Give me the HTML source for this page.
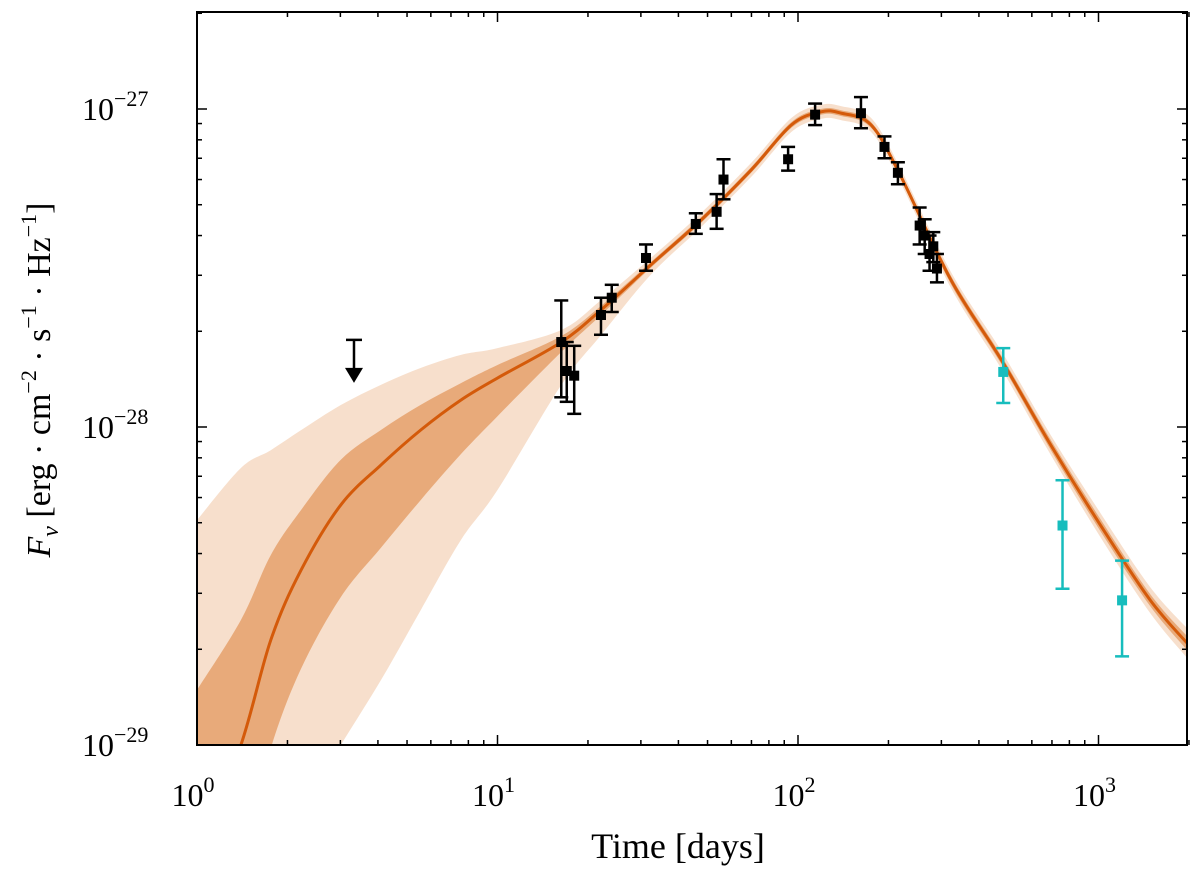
<!DOCTYPE html>
<html><head><meta charset="utf-8"><style>
body{margin:0;background:#fff;overflow:hidden;}
svg{display:block;}
svg text{font-family:"Liberation Serif",serif;fill:#000;}
</style></head><body>
<svg id="chart" width="1200" height="873" xmlns="http://www.w3.org/2000/svg">
<defs><clipPath id="clip"><rect x="197" y="12" width="990" height="733"/></clipPath></defs>
<g id="bands" clip-path="url(#clip)"></g>
<g id="marks"></g>
<g id="axes"></g>
<text x="678" y="858" font-size="36" text-anchor="middle">Time [days]</text>
<text transform="translate(50,380) rotate(-90)" font-size="34" text-anchor="middle"><tspan font-style="italic">F</tspan><tspan font-style="italic" font-size="24" dy="8">ν</tspan><tspan dy="-8"> [erg · cm</tspan><tspan font-size="22" dy="-14">−2</tspan><tspan dy="14"> · s</tspan><tspan font-size="22" dy="-14">−1</tspan><tspan dy="14"> · Hz</tspan><tspan font-size="22" dy="-14">−1</tspan><tspan dy="14">]</tspan></text>
</svg>
<script>
// Model grid (days) and median log10 flux
const modelTimes=[1.0,1.40,1.76,2.22,3.01,4.10,5.56,7.56,10,16.3,22.1,32.3,47.6,69.8,95.1,119,139,175,219,323,475,694,1014,1485,2000];
const modelLog=[-29.362,-29.0,-28.670,-28.450,-28.245,-28.119,-28.009,-27.915,-27.846,-27.733,-27.632,-27.491,-27.349,-27.192,-27.050,-27.009,-27.013,-27.050,-27.208,-27.538,-27.789,-28.057,-28.308,-28.544,-28.686];
const up2=[1.069,0.871,0.597,0.440,0.314,0.252,0.195,0.142,0.094,0.038,0.031,0.022,0.022,0.022,0.022,0.022,0.022,0.022,0.022,0.025,0.028,0.031,0.038,0.041,0.047];
const up1=[0.535,0.393,0.267,0.189,0.142,0.110,0.079,0.053,0.041,0.019,0.013,0.009,0.009,0.009,0.009,0.009,0.009,0.009,0.009,0.013,0.013,0.016,0.019,0.019,0.022];
const lo1=[0.380,0.360,0.340,0.310,0.290,0.260,0.220,0.170,0.120,0.031,0.016,0.009,0.009,0.009,0.009,0.009,0.009,0.009,0.009,0.013,0.013,0.016,0.019,0.019,0.022];
const lo2=[0.755,0.770,0.818,0.755,0.755,0.676,0.566,0.440,0.352,0.135,0.079,0.031,0.022,0.022,0.022,0.022,0.022,0.022,0.022,0.025,0.028,0.031,0.038,0.041,0.047];
// Observations (flux in 1e-28)
const obsT=[16.3,17.0,18.0,22.1,24.0,31.2,45.7,53.6,56.5,92.7,114,162,194,215,254,264,274,282,290];
const obsF=[1.85,1.5,1.45,2.25,2.55,3.4,4.35,4.75,6.0,6.95,9.6,9.7,7.6,6.3,4.3,4.0,3.5,3.7,3.15];
const obsHi=[2.5,1.85,1.8,2.55,2.8,3.75,4.7,5.4,6.95,7.6,10.4,10.9,8.2,6.8,4.9,4.5,4.0,4.1,3.5];
const obsLo=[1.24,1.2,1.1,1.95,2.3,3.1,4.05,4.2,5.2,6.4,8.9,8.7,7.0,5.8,3.75,3.5,3.1,3.3,2.85];
const cyanT=[482,759,1198];
const cyanF=[1.49,0.49,0.285];
const cyanHi=[1.77,0.68,0.38];
const cyanLo=[1.19,0.31,0.19];
const limitT=[3.33];
const limitF=[1.88];
const xTickExp=[0,1,2,3];
const yTickExp=[-29,-28,-27];

const L=197,R=1187,T=12,B=745;
const xs=t=>L+Math.log10(t)*300.5;
const yl=lg=>B-(lg+29)*318;
const ys=f28=>yl(Math.log10(f28)-28);
const NS="http://www.w3.org/2000/svg";
function mk(tag,attrs,parent){const e=document.createElementNS(NS,tag);for(const k in attrs)e.setAttribute(k,attrs[k]);parent.appendChild(e);return e;}
function smooth(pts){let d="M"+pts[0][0]+","+pts[0][1];for(let i=0;i<pts.length-1;i++){const p0=pts[Math.max(0,i-1)],p1=pts[i],p2=pts[i+1],p3=pts[Math.min(pts.length-1,i+2)];const c1=[p1[0]+(p2[0]-p0[0])/6,p1[1]+(p2[1]-p0[1])/6],c2=[p2[0]-(p3[0]-p1[0])/6,p2[1]-(p3[1]-p1[1])/6];d+=" C"+c1+" "+c2+" "+p2;}return d;}
const bands=document.getElementById('bands'),marks=document.getElementById('marks'),axes=document.getElementById('axes');
function band(up,lo,color,name){const top=modelTimes.map((t,i)=>[xs(t),yl(modelLog[i]+up[i])]);const bot=modelTimes.map((t,i)=>[xs(t),yl(modelLog[i]-lo[i])]).reverse();let d=smooth(top);d+=" L"+bot[0]+smooth(bot).slice(1).replace(/^[^C]*/,"")+"Z";
const p=mk('path',{d:d,fill:color},bands);

}
band(up2,lo2,'#f7dfcc','band-2sigma');
band(up1,lo1,'#e8aa7a','band-1sigma');
const med=mk('path',{d:smooth(modelTimes.map((t,i)=>[xs(t),yl(modelLog[i])])),fill:'none',stroke:'#d45a0a','stroke-width':3},bands);


function pts(T_,F,H,Lo,color,name){T_.forEach((t,i)=>{const g=mk('g',{},marks);


const x=xs(t),y1=ys(H[i]),y2=ys(Lo[i]);mk('line',{x1:x,x2:x,y1:y1,y2:y2,stroke:color,'stroke-width':2.5},g);mk('line',{x1:x-7,x2:x+7,y1:y1,y2:y1,stroke:color,'stroke-width':2.5},g);mk('line',{x1:x-7,x2:x+7,y1:y2,y2:y2,stroke:color,'stroke-width':2.5},g);mk('rect',{x:x-5,y:ys(F[i])-5,width:10,height:10,fill:color},g);});}
pts(obsT,obsF,obsHi,obsLo,'#000','data-point');
pts(cyanT,cyanF,cyanHi,cyanLo,'#17bdbd','late-data-point');
limitT.forEach((t,i)=>{const g=mk('g',{},marks);


const x=xs(t),y=ys(limitF[i]);mk('line',{x1:x-8,x2:x+8,y1:y,y2:y,stroke:'#000','stroke-width':2.5},g);mk('line',{x1:x,x2:x,y1:y,y2:y+30,stroke:'#000','stroke-width':2.5},g);mk('path',{d:`M${x-9},${y+28} L${x+9},${y+28} L${x},${y+43}Z`,fill:'#000'},g);});
const fr=mk('rect',{x:L,y:T,width:R-L,height:B-T,fill:'none',stroke:'#000','stroke-width':2},axes);


for(let e=0;e<=3;e++)for(let m=1;m<=9;m++){const t=m*Math.pow(10,e);if(t>2000)break;const x=xs(t),len=m==1?10:5;mk('line',{x1:x,x2:x,y1:B,y2:B-len,stroke:'#000','stroke-width':1.5},axes);mk('line',{x1:x,x2:x,y1:T,y2:T+len,stroke:'#000','stroke-width':1.5},axes);}
for(let e=-29;e<=-27;e++)for(let m=1;m<=9;m++){const lg=e+Math.log10(m);const y=yl(lg);if(y<T)break;const len=m==1?10:5;mk('line',{x1:L,x2:L+len,y1:y,y2:y,stroke:'#000','stroke-width':1.5},axes);mk('line',{x1:R,x2:R-len,y1:y,y2:y,stroke:'#000','stroke-width':1.5},axes);}
xTickExp.forEach(e=>{const t=mk('text',{x:xs(Math.pow(10,e))-4,y:806,'font-size':32,'text-anchor':'middle'},axes);


t.innerHTML=`10<tspan dy="-14" font-size="22">${e}</tspan>`;});
yTickExp.forEach(e=>{const t=mk('text',{x:82,y:yl(e)+11,'font-size':32},axes);


t.innerHTML=`10<tspan dy="-14" font-size="22">\u2212${-e}</tspan>`;});
</script>
</body></html>
